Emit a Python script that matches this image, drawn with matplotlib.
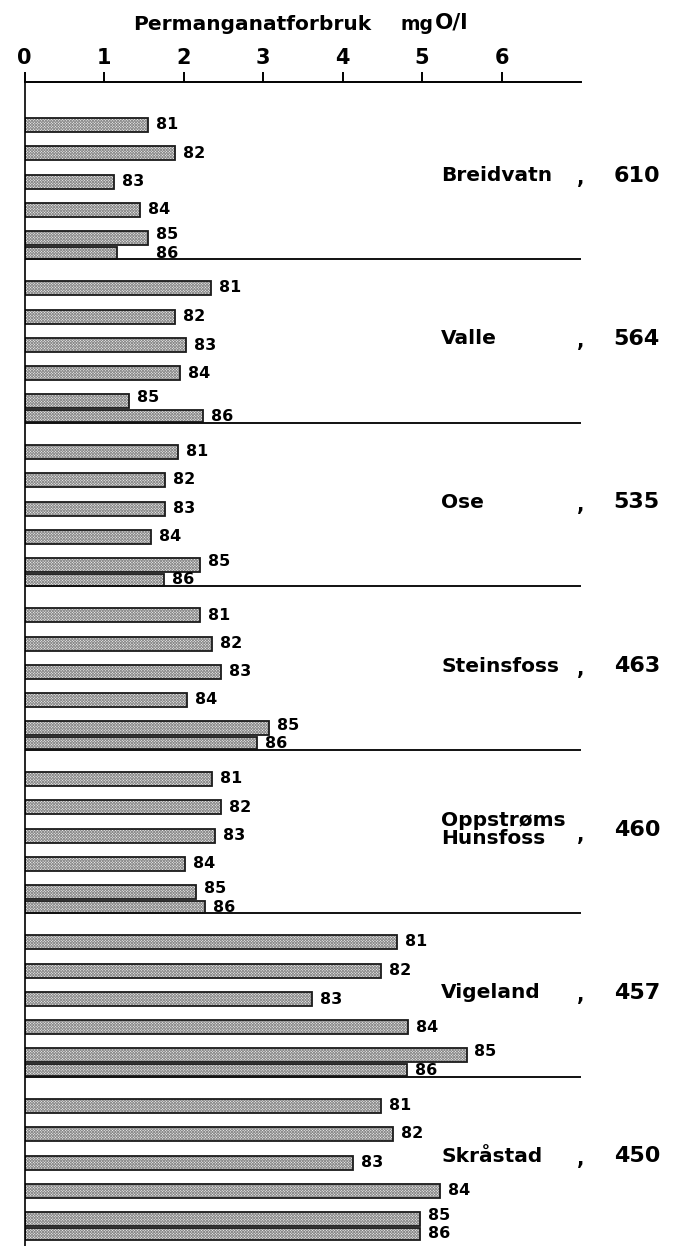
import numpy as np
import matplotlib.pyplot as plt

plt.rcParams['font.family'] = ['DejaVu Sans']
plt.rcParams['font.weight'] = 'bold'
plt.rcParams['hatch.linewidth'] = 0.6

# permanganate consumption, mg O/l, one row per station, years 81..86
years = ['81', '82', '83', '84', '85', '86']
stations = ['Breidvatn', 'Valle', 'Ose', 'Steinsfoss', 'Oppstrøms\nHunsfoss', 'Vigeland', 'Skråstad']
station_nos = ['610', '564', '535', '463', '460', '457', '450']

breidvatn = [1.55, 1.89, 1.13, 1.45, 1.55, 1.16]
valle = [2.35, 1.89, 2.03, 1.96, 1.31, 2.24]
ose = [1.93, 1.77, 1.77, 1.59, 2.21, 1.75]
steinsfoss = [2.21, 2.36, 2.47, 2.04, 3.07, 2.92]
hunsfoss = [2.36, 2.47, 2.40, 2.02, 2.16, 2.27]
vigeland = [4.68, 4.49, 3.62, 4.82, 5.56, 4.81]
skrastad = [4.49, 4.64, 4.13, 5.23, 4.97, 4.97]
values = [breidvatn, valle, ose, steinsfoss, hunsfoss, vigeland, skrastad]

# layout (y in pixel-like units, measured downward from the top axis)
W, H = 676, 1246
x0_px, unit_px = 24.5, 79.5
top_px = 81.7
group_h = 163.5
first_top = 13.8
year_off = [29, 57.5, 86, 114, 142, 157]
bar_h = [14, 14, 14, 14, 14, 12]
label_gap = 0.1

fig = plt.figure(figsize=(W / 100, H / 100), dpi=100)
ax = fig.add_axes([x0_px / W, 0, 7 * unit_px / W, 1 - top_px / H])
ax.set_xlim(0, 7)
ax.set_ylim(H - top_px, 0)

for g, (name, no, vals) in enumerate(zip(stations, station_nos, values)):
    gtop = first_top + g * group_h
    ys = [gtop + o for o in year_off]
    ax.barh(ys, vals, height=bar_h, left=0, color='#f0f0f0', edgecolor='#8c8c8c',
            hatch='x' * 12, lw=0)
    ax.barh(ys, vals, height=bar_h, left=0, fill=False, edgecolor='#1a1a1a', lw=1.3)
    for i, (y, v) in enumerate(zip(ys, vals)):
        lx = v + label_gap
        if g == 0 and i == 5:
            lx = vals[4] + label_gap
        if i == 5:
            # last year's label sits on the group's separator line
            ax.text(lx, gtop + group_h - 1.5, years[i], fontsize=11.5, fontweight='bold',
                    va='baseline', ha='left')
        else:
            ty = y - 3 if i == 4 else y
            ax.text(lx, ty, years[i], fontsize=11.5, fontweight='bold', va='center', ha='left')
    if g < len(stations) - 1:
        ax.plot([0, 7], [gtop + group_h] * 2, color='#111111', lw=1.4)
    ly = gtop + 80
    ax.text(5.24, ly, name, fontsize=14.5, fontweight='bold', va='center', ha='left',
            linespacing=1.0)
    ax.text(7.0, ly + (6 if '\n' in name else 3), ',', fontsize=14, fontweight='bold',
            va='center', ha='center', clip_on=False)
    ax.text(7.41, ly, no, fontsize=16, fontweight='bold', va='center', ha='left',
            clip_on=False)

ax.xaxis.tick_top()
ax.set_xticks(np.arange(0, 7))
ax.set_xticklabels([str(i) for i in range(7)], fontsize=15, fontweight='bold')
ax.tick_params(axis='x', direction='out', length=7, width=1.4, pad=3)
ax.set_yticks([])
for s in ['right', 'bottom']:
    ax.spines[s].set_visible(False)
ax.spines['top'].set_linewidth(1.4)
ax.spines['left'].set_linewidth(1.2)

fig.text(133 / W, 1 - 25 / H, 'Permanganatforbruk', fontsize=14.5, fontweight='bold',
         ha='left', va='center')
fig.text(433 / W, 1 - 25 / H, 'mg', fontsize=13.5, fontweight='bold', ha='right', va='center')
fig.text(435 / W, 1 - 23 / H, 'O/l', fontsize=15.5, fontweight='bold', ha='left', va='center')

fig.savefig('out.png', dpi=100)
